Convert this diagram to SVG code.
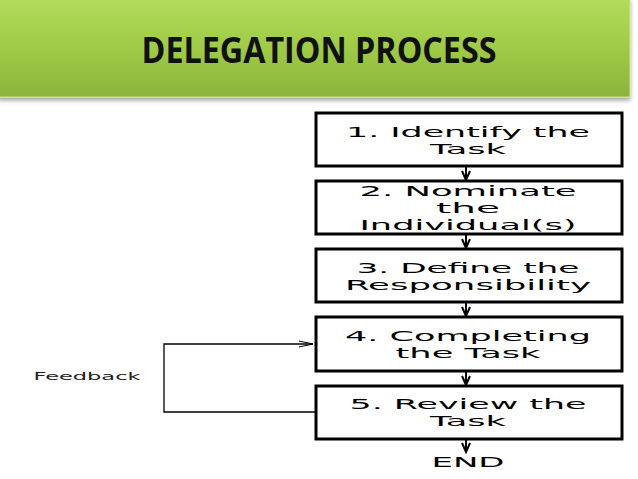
<svg xmlns="http://www.w3.org/2000/svg" width="638" height="479" viewBox="0 0 638 479">
<defs>
<linearGradient id="g" x1="0" y1="0" x2="0" y2="1">
<stop offset="0" stop-color="#b2dc5c"/>
<stop offset="0.5" stop-color="#9fcb47"/>
<stop offset="1" stop-color="#8ab43b"/>
</linearGradient>
<filter id="sh" x="-5%" y="-5%" width="110%" height="120%">
<feDropShadow dx="0" dy="3" stdDeviation="2" flood-color="#000" flood-opacity="0.35"/>
</filter>
<marker id="ah" markerWidth="12" markerHeight="10" refX="10" refY="5" orient="auto" markerUnits="userSpaceOnUse">
<path d="M1,1 L10,5 L1,9" fill="none" stroke="#000" stroke-width="2"/>
</marker>
<marker id="oh" markerWidth="16" markerHeight="8" refX="15" refY="4" orient="auto" markerUnits="userSpaceOnUse">
<path d="M1,1 L15,4 L1,7" fill="none" stroke="#000" stroke-width="1"/>
</marker>
</defs>
<style>
.box{fill:#fff;stroke:#000;stroke-width:3}
.t{font-family:"DejaVu Sans",sans-serif;font-size:14.5px;fill:#000;text-anchor:middle}
.c{stroke:#000;stroke-width:2;fill:none}
.fb{stroke:#000;stroke-width:1.3;fill:none}
</style>
<rect width="638" height="479" fill="#fff"/>
<g id="title">
<rect x="-2" y="-2" width="632" height="99" fill="url(#g)" stroke="#c9e88a" stroke-width="1" filter="url(#sh)"/>
<text x="319" y="63" font-family="'Open Sans','Liberation Sans',Arial,sans-serif" font-weight="bold" font-size="35" textLength="355" lengthAdjust="spacingAndGlyphs" text-anchor="middle" fill="#111">DELEGATION PROCESS</text>
</g>
<g id="connectors">
<line class="c" x1="466" y1="167" x2="466" y2="180" marker-end="url(#ah)"/>
<line class="c" x1="466" y1="235" x2="466" y2="248" marker-end="url(#ah)"/>
<line class="c" x1="466" y1="303" x2="466" y2="316" marker-end="url(#ah)"/>
<line class="c" x1="466" y1="371" x2="466" y2="385" marker-end="url(#ah)"/>
<line class="c" x1="466" y1="440" x2="466" y2="452" marker-end="url(#ah)"/>
<polyline class="fb" points="315,412 164,412 164,344 313,344" marker-end="url(#oh)"/>
</g>
<g id="n1">
<rect class="box" x="316" y="113" width="306" height="53"/>
<text class="t" x="468" y="137" textLength="244" lengthAdjust="spacingAndGlyphs">1. Identify the</text>
<text class="t" x="468" y="154" textLength="76" lengthAdjust="spacingAndGlyphs">Task</text>
</g>
<g id="n2">
<rect class="box" x="316" y="181" width="306" height="53"/>
<text class="t" x="468" y="196" textLength="217" lengthAdjust="spacingAndGlyphs">2. Nominate</text>
<text class="t" x="468" y="213" textLength="64" lengthAdjust="spacingAndGlyphs">the</text>
<text class="t" x="468" y="230" textLength="217" lengthAdjust="spacingAndGlyphs">Individual(s)</text>
</g>
<g id="n3">
<rect class="box" x="316" y="249" width="306" height="53"/>
<text class="t" x="468" y="273" textLength="223" lengthAdjust="spacingAndGlyphs">3. Define the</text>
<text class="t" x="468" y="290" textLength="246" lengthAdjust="spacingAndGlyphs">Responsibility</text>
</g>
<g id="n4">
<rect class="box" x="316" y="317" width="306" height="54"/>
<text class="t" x="468" y="341" textLength="246" lengthAdjust="spacingAndGlyphs">4. Completing</text>
<text class="t" x="468" y="358" textLength="145" lengthAdjust="spacingAndGlyphs">the Task</text>
</g>
<g id="n5">
<rect class="box" x="316" y="386" width="306" height="53"/>
<text class="t" x="468" y="409" textLength="237" lengthAdjust="spacingAndGlyphs">5. Review the</text>
<text class="t" x="468" y="426" textLength="76" lengthAdjust="spacingAndGlyphs">Task</text>
</g>
<g id="end">
<text class="t" x="468" y="467" textLength="73" lengthAdjust="spacingAndGlyphs">END</text>
</g>
<g id="feedback">
<text x="87" y="380" font-family="'DejaVu Sans',sans-serif" font-size="10" text-anchor="middle" textLength="107" lengthAdjust="spacingAndGlyphs" fill="#222">Feedback</text>
</g>
</svg>
